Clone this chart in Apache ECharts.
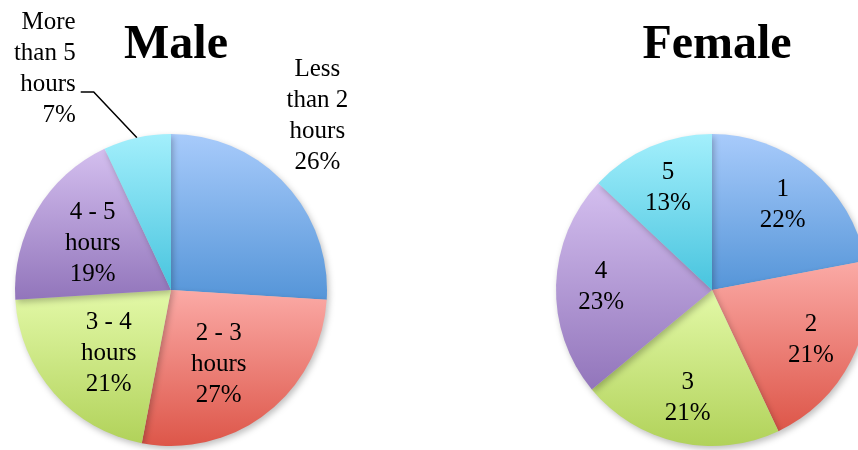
<!DOCTYPE html>
<html>
<head>
<meta charset="utf-8">
<script src="https://cdn.jsdelivr.net/npm/echarts@6/dist/echarts.min.js"></script>
<style>
  html, body { margin: 0; padding: 0; background: #fff; }
  #chart { width: 858px; height: 450px; }
</style>
</head>
<body>
<div id="chart"></div>
<script>
var maleNames = ['Less\nthan 2\nhours', '2 - 3\nhours', '3 - 4\nhours', '4 - 5\nhours', 'More\nthan 5\nhours'];
var maleValues = [26, 27, 21, 19, 7];
var femaleNames = ['1', '2', '3', '4', '5'];
var femaleValues = [22, 21, 21, 23, 13];

// top / bottom colour of each slice gradient
var topColors = ['#a8cbfb', '#fbaaa6', '#e3f9a8', '#d4bfef', '#a3effc'];
var bottomColors = ['#5595d8', '#dd5649', '#b1d25a', '#9275bb', '#48c4de'];

var font = '"Liberation Serif", "Times New Roman", serif';

function grad(i) {
  return new echarts.graphic.LinearGradient(0, 0, 0, 1, [
    { offset: 0, color: topColors[i] },
    { offset: 1, color: bottomColors[i] }
  ]);
}

function pieData(names, values) {
  return values.map(function (v, i) {
    return { name: names[i], value: v, itemStyle: { color: grad(i) } };
  });
}

function labelData(names, values, extra) {
  return values.map(function (v, i) {
    var d = { name: names[i], value: v };
    if (extra[i]) d.label = extra[i];
    return d;
  });
}

var baseLabel = {
  fontFamily: font,
  fontSize: 25,
  lineHeight: 31,
  color: '#000',
  formatter: function (p) { return p.name + '\n' + p.value + '%'; }
};

function pieSeries(center, data) {
  return {
    type: 'pie',
    center: center,
    radius: 156,
    startAngle: 90,
    clockwise: true,
    silent: true,
    label: { show: false },
    labelLine: { show: false },
    itemStyle: {
      borderWidth: 0,
      shadowBlur: 6,
      shadowOffsetX: 2,
      shadowOffsetY: 3,
      shadowColor: 'rgba(0,0,0,0.25)'
    },
    data: data
  };
}

function labelSeries(center, radius, data, layout) {
  return {
    type: 'pie',
    center: center,
    radius: radius,
    startAngle: 90,
    clockwise: true,
    silent: true,
    itemStyle: { color: 'rgba(0,0,0,0)' },
    label: Object.assign({ show: true, position: 'inside' }, baseLabel),
    labelLine: { show: false },
    labelLayout: layout,
    data: data
  };
}

var maleExtra = [
  { offset: [80, -112] },
  { offset: [-8, 3] },
  { offset: [6, 3] },
  null,
  { position: 'outside', distance: 5 }
];

var maleLabels = labelData(maleNames, maleValues, maleExtra);
maleLabels[4].labelLine = { show: true, length: 47, length2: 46, lineStyle: { color: '#000', width: 1.5 } };

// move the small slice's label up so the leader line meets its third line
function maleLayout(p) {
  if (p.dataIndex !== 4 || !p.labelLinePoints) return {};
  var pts = p.labelLinePoints;
  var end = pts[pts.length - 1];
  return {
    x: end[0] - 5,
    y: end[1] - 23,
    align: 'right',
    verticalAlign: 'middle',
    labelLinePoints: [pts[0], [end[0] + 13, pts[1][1]], end]
  };
}

var option = {
  animation: false,
  backgroundColor: '#ffffff',
  title: [
    {
      text: 'Male', left: 171, top: 17, textAlign: 'center',
      textStyle: { fontFamily: font, fontSize: 48, fontWeight: 'bold', color: '#000' }
    },
    {
      text: 'Female', left: 712, top: 17, textAlign: 'center',
      textStyle: { fontFamily: font, fontSize: 48, fontWeight: 'bold', color: '#000' }
    }
  ],
  series: [
    pieSeries([171, 290], pieData(maleNames, maleValues)),
    pieSeries([712, 290], pieData(femaleNames, femaleValues)),
    labelSeries([171, 290], [20, 156], maleLabels, maleLayout),
    labelSeries([712, 290], [60, 156], labelData(femaleNames, femaleValues, []), null)
  ]
};

var chart = echarts.init(document.getElementById('chart'));
chart.setOption(option);
</script>
</body>
</html>
